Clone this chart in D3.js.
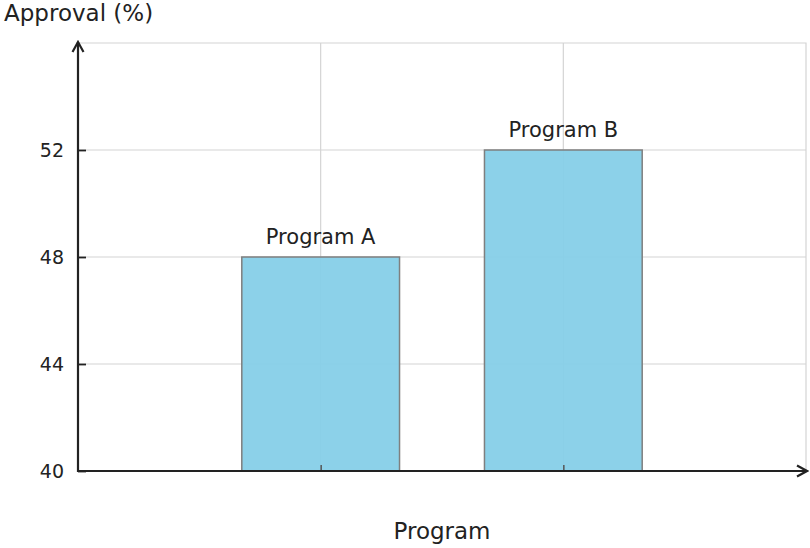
<!DOCTYPE html>
<html>
<head>
<meta charset="utf-8">
<script src="https://cdn.jsdelivr.net/npm/d3@7"></script>
<style>
  body { margin: 0; background: #fff; }
  text { font-family: "DejaVu Sans", sans-serif; fill: #222; }
</style>
</head>
<body>
<svg id="chart" width="810" height="548"></svg>
<script>
// chart data
var programs = ['Program A', 'Program B']
var approval = [48, 52]
var yTicks = [40, 44, 48, 52]

var margin = {top: 43, right: 4, bottom: 77, left: 78}
var width = 810 - margin.left - margin.right
var height = 548 - margin.top - margin.bottom

var svg = d3.select('#chart')

var defs = svg.append('defs')
defs.append('marker')
  .attr('id', 'arrow')
  .attr('viewBox', '0 0 14 14')
  .attr('refX', 12).attr('refY', 7)
  .attr('markerWidth', 14).attr('markerHeight', 14)
  .attr('markerUnits', 'userSpaceOnUse')
  .attr('orient', 'auto')
  .append('path')
  .attr('d', 'M2,1.5 L12,7 L2,12.5')
  .attr('fill', 'none')
  .attr('stroke', '#222')
  .attr('stroke-width', 2.2)

var g = svg.append('g')
  .attr('transform', 'translate(' + margin.left + ',' + margin.top + ')')

var x = d3.scalePoint()
  .domain(programs)
  .range([0, width])
  .padding(1)

var step = x.step()
var barWidth = step * 0.65

var y = d3.scaleLinear()
  .domain([40, 56])
  .range([height, 0])

// grid
g.append('g')
  .selectAll('line.h')
  .data(yTicks.slice(1))
  .enter().append('line')
  .attr('x1', 0).attr('x2', width)
  .attr('y1', function (d) { return y(d) })
  .attr('y2', function (d) { return y(d) })
  .attr('stroke', '#d4d4d4').attr('stroke-width', 1.2)

g.append('g')
  .selectAll('line.v')
  .data(programs)
  .enter().append('line')
  .attr('x1', function (d) { return x(d) })
  .attr('x2', function (d) { return x(d) })
  .attr('y1', 0).attr('y2', height)
  .attr('stroke', '#d4d4d4').attr('stroke-width', 1.2)

// frame top / right
g.append('path')
  .attr('d', 'M0,0 H' + width + ' V' + height)
  .attr('fill', 'none')
  .attr('stroke', '#d4d4d4').attr('stroke-width', 1.2)

// bars
g.append('g')
  .selectAll('rect')
  .data(programs)
  .enter().append('rect')
  .attr('x', function (d) { return x(d) - barWidth / 2 })
  .attr('width', barWidth)
  .attr('y', function (d, i) { return y(approval[i]) })
  .attr('height', function (d, i) { return height - y(approval[i]) })
  .attr('fill', '#86cfe8')
  .attr('fill-opacity', 0.95)
  .attr('stroke', '#7f7f7f')
  .attr('stroke-width', 1.5)

// bar labels
g.append('g')
  .selectAll('text')
  .data(programs)
  .enter().append('text')
  .attr('x', function (d) { return x(d) })
  .attr('y', function (d, i) { return y(approval[i]) - 13 })
  .attr('text-anchor', 'middle')
  .style('font-size', '21px')
  .text(function (d) { return d })

// axes
var yAxis = d3.axisRight(y).tickValues(yTicks).tickSize(8).tickFormat(d3.format('d'))
var yg = g.append('g').call(yAxis)
yg.select('.domain').remove()
yg.selectAll('.tick line').attr('stroke', '#222').attr('stroke-width', 1.8)
yg.selectAll('.tick text')
  .attr('x', -14).attr('text-anchor', 'end')
  .style('font-size', '19px')

var xAxis = d3.axisTop(x).tickSize(6).tickFormat('')
var xg = g.append('g').attr('transform', 'translate(0,' + height + ')').call(xAxis)
xg.select('.domain').remove()
xg.selectAll('.tick line').attr('stroke', '#555').attr('stroke-width', 1.5)

g.append('line')
  .attr('x1', 0).attr('x2', 0)
  .attr('y1', height + 1).attr('y2', -1)
  .attr('stroke', '#222').attr('stroke-width', 2.2)
  .attr('marker-end', 'url(#arrow)')

g.append('line')
  .attr('x1', -1).attr('x2', width + 1)
  .attr('y1', height).attr('y2', height)
  .attr('stroke', '#222').attr('stroke-width', 2.2)
  .attr('marker-end', 'url(#arrow)')

// titles
svg.append('text')
  .attr('x', 4).attr('y', 21)
  .style('font-size', '23px')
  .text('Approval (%)')

svg.append('text')
  .attr('x', margin.left + width / 2).attr('y', 539)
  .attr('text-anchor', 'middle')
  .style('font-size', '23px')
  .text('Program')
</script>
</body>
</html>
